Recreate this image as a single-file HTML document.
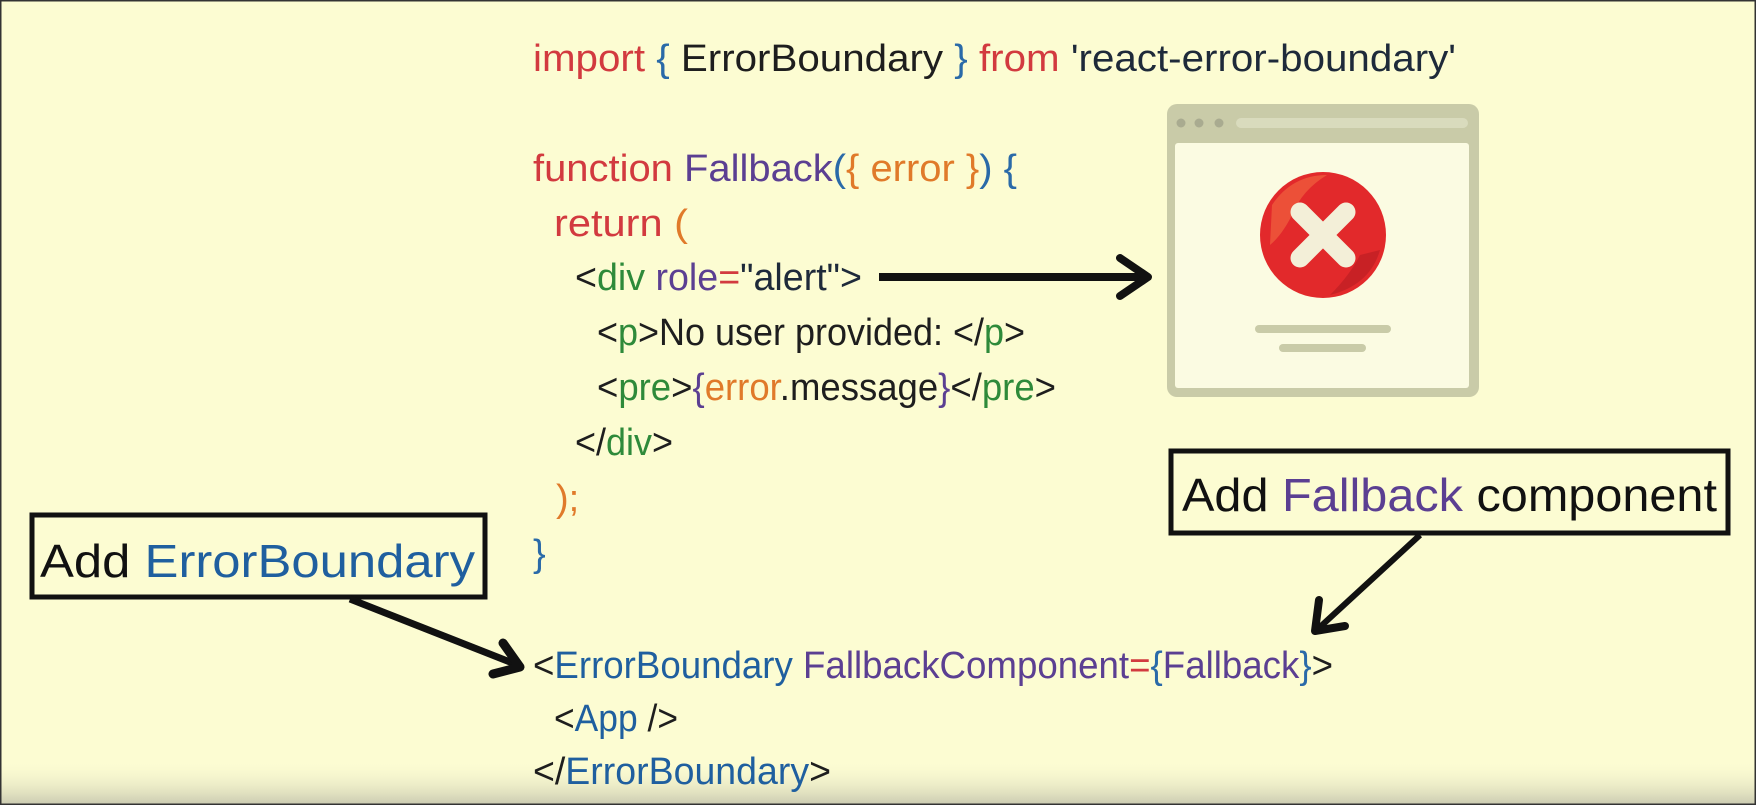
<!DOCTYPE html>
<html><head><meta charset="utf-8"><style>
html,body{margin:0;padding:0;background:#fcfcd2}
svg{display:block}
text{font-family:"Liberation Sans",sans-serif;font-size:38px}
</style></head><body>
<svg width="1756" height="805" viewBox="0 0 1756 805" xmlns="http://www.w3.org/2000/svg">
<defs>
<linearGradient id="bot" x1="0" y1="0" x2="0" y2="1">
<stop offset="0" stop-color="#fcfcd2" stop-opacity="0"/>
<stop offset="1" stop-color="#c9c9b0"/>
</linearGradient>
</defs>
<rect width="1756" height="805" fill="#fcfcd2"/>
<rect y="760" width="1756" height="45" fill="url(#bot)"/>
<rect x="0.5" y="0.5" width="1755" height="804" fill="none" stroke="#333" stroke-width="2"/>

<text x="533" y="71" textLength="923" lengthAdjust="spacingAndGlyphs"><tspan fill="#d23a3f">import</tspan><tspan fill="#2a6aa8"> { </tspan><tspan fill="#1e1e1e">ErrorBoundary</tspan><tspan fill="#2a6aa8"> } </tspan><tspan fill="#d23a3f">from </tspan><tspan fill="#1e2a3a">'react-error-boundary'</tspan></text>
<text x="533" y="181" textLength="484" lengthAdjust="spacingAndGlyphs"><tspan fill="#d23a3f">function </tspan><tspan fill="#5b3f92">Fallback</tspan><tspan fill="#2a6aa8">(</tspan><tspan fill="#e07a2a">{ error }</tspan><tspan fill="#2a6aa8">) {</tspan></text>
<text x="554" y="236" textLength="134" lengthAdjust="spacingAndGlyphs"><tspan fill="#d23a3f">return </tspan><tspan fill="#e07a2a">(</tspan></text>
<text x="575" y="290" textLength="287" lengthAdjust="spacingAndGlyphs"><tspan fill="#1e1e1e">&lt;</tspan><tspan fill="#2e8a3a">div </tspan><tspan fill="#5b3f92">role</tspan><tspan fill="#d23a3f">=</tspan><tspan fill="#1e2a3a">"alert"&gt;</tspan></text>
<text x="597" y="345" textLength="428" lengthAdjust="spacingAndGlyphs"><tspan fill="#1e1e1e">&lt;</tspan><tspan fill="#2e8a3a">p</tspan><tspan fill="#1e1e1e">&gt;No user provided: &lt;/</tspan><tspan fill="#2e8a3a">p</tspan><tspan fill="#1e1e1e">&gt;</tspan></text>
<text x="597" y="400" textLength="459" lengthAdjust="spacingAndGlyphs"><tspan fill="#1e1e1e">&lt;</tspan><tspan fill="#2e8a3a">pre</tspan><tspan fill="#1e1e1e">&gt;</tspan><tspan fill="#5b3f92">{</tspan><tspan fill="#e07a2a">error</tspan><tspan fill="#1e1e1e">.message</tspan><tspan fill="#5b3f92">}</tspan><tspan fill="#1e1e1e">&lt;/</tspan><tspan fill="#2e8a3a">pre</tspan><tspan fill="#1e1e1e">&gt;</tspan></text>
<text x="575" y="455" textLength="98" lengthAdjust="spacingAndGlyphs"><tspan fill="#1e1e1e">&lt;/</tspan><tspan fill="#2e8a3a">div</tspan><tspan fill="#1e1e1e">&gt;</tspan></text>
<text x="556" y="511" fill="#e07a2a">);</text>
<text x="533" y="566" fill="#2a6aa8">}</text>
<text x="533" y="678" textLength="800" lengthAdjust="spacingAndGlyphs"><tspan fill="#1e1e1e">&lt;</tspan><tspan fill="#1f5f9f">ErrorBoundary </tspan><tspan fill="#5b3f92">FallbackComponent</tspan><tspan fill="#d23a3f">=</tspan><tspan fill="#2a6aa8">{</tspan><tspan fill="#5b3f92">Fallback</tspan><tspan fill="#2a6aa8">}</tspan><tspan fill="#1e1e1e">&gt;</tspan></text>
<text x="554" y="731" textLength="124" lengthAdjust="spacingAndGlyphs"><tspan fill="#1e1e1e">&lt;</tspan><tspan fill="#1f5f9f">App</tspan><tspan fill="#1e1e1e"> /&gt;</tspan></text>
<text x="533" y="784" textLength="298" lengthAdjust="spacingAndGlyphs"><tspan fill="#1e1e1e">&lt;/</tspan><tspan fill="#1f5f9f">ErrorBoundary</tspan><tspan fill="#1e1e1e">&gt;</tspan></text>

<line x1="879" y1="277" x2="1145" y2="277" stroke="#111" stroke-width="8"/>
<polyline points="1120,258 1148,277 1120,296" fill="none" stroke="#111" stroke-width="8" stroke-linejoin="round" stroke-linecap="round"/>

<rect x="1167" y="104" width="312" height="293" rx="10" fill="#c9cba8"/>
<rect x="1175" y="143" width="294" height="245" rx="3" fill="#fbfbe2"/>
<circle cx="1181" cy="123" r="4.5" fill="#a9ab90"/>
<circle cx="1199" cy="123" r="4.5" fill="#a9ab90"/>
<circle cx="1219" cy="123" r="4.5" fill="#a9ab90"/>
<rect x="1236" y="118" width="232" height="10" rx="5" fill="#d9dbbd"/>
<circle cx="1323" cy="235" r="63" fill="#e2292b"/>
<path d="M1272 205 q20 -30 55 -30 q-25 15 -35 40 q-10 20 -22 30 z" fill="#ef5a3c" opacity="0.8"/>
<path d="M1380 250 q-10 35 -50 45 q20 -20 30 -40 z" fill="#c21f24" opacity="0.8"/>
<line x1="1300" y1="212" x2="1346" y2="258" stroke="#f3efd8" stroke-width="19" stroke-linecap="round"/>
<line x1="1346" y1="212" x2="1300" y2="258" stroke="#f3efd8" stroke-width="19" stroke-linecap="round"/>
<rect x="1255" y="325" width="136" height="8" rx="4" fill="#c9cba8"/>
<rect x="1279" y="344" width="87" height="8" rx="4" fill="#c9cba8"/>

<rect x="1171" y="451" width="557" height="82" fill="#fcfcd2" stroke="#111" stroke-width="5"/>
<text x="1182" y="511" style="font-size:46px" textLength="535" lengthAdjust="spacingAndGlyphs"><tspan fill="#111">Add </tspan><tspan fill="#5b3f92">Fallback</tspan><tspan fill="#111"> component</tspan></text>
<line x1="1420" y1="535" x2="1320" y2="627" stroke="#111" stroke-width="6"/>
<polyline points="1319,600 1315,631 1345,626" fill="none" stroke="#111" stroke-width="8" stroke-linejoin="round" stroke-linecap="round"/>

<rect x="32" y="515" width="453" height="82" fill="#fcfcd2" stroke="#111" stroke-width="5"/>
<text x="40" y="577" style="font-size:46px" textLength="435" lengthAdjust="spacingAndGlyphs"><tspan fill="#111">Add </tspan><tspan fill="#1f5f9f">ErrorBoundary</tspan></text>
<line x1="350" y1="599" x2="515" y2="664" stroke="#111" stroke-width="7"/>
<polyline points="503,643 520,667 493,674" fill="none" stroke="#111" stroke-width="9" stroke-linejoin="round" stroke-linecap="round"/>
</svg>
</body></html>
